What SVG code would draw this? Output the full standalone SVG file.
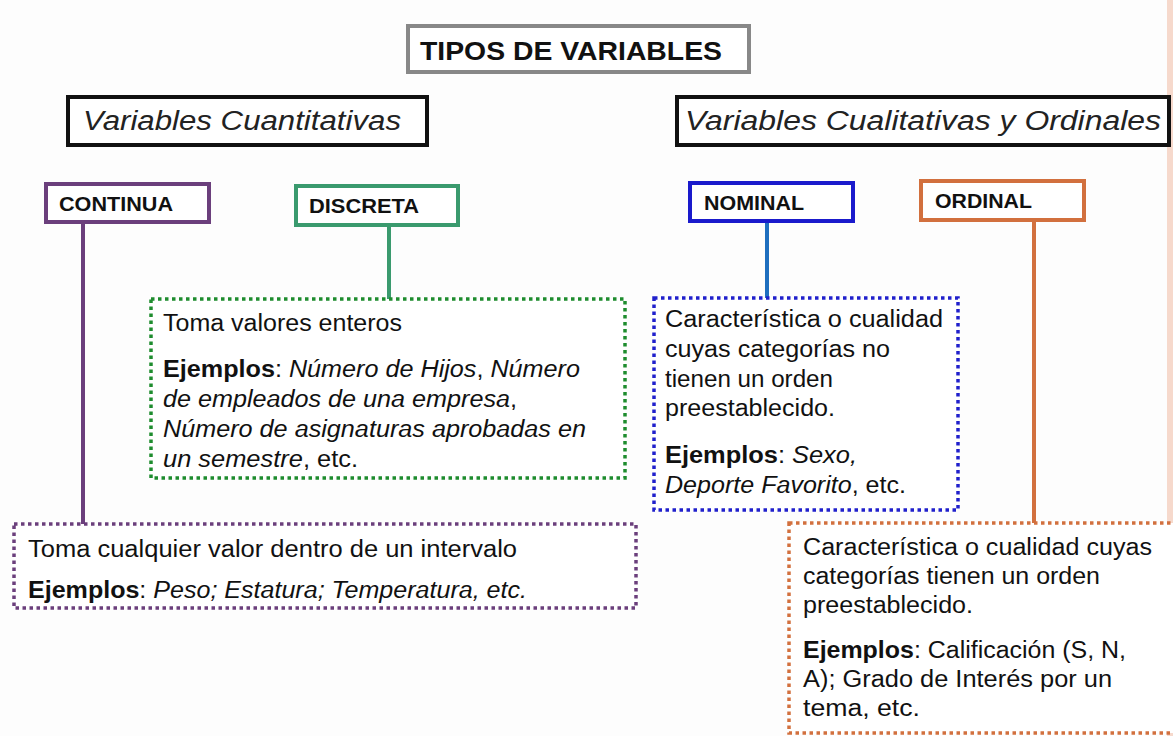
<svg xmlns="http://www.w3.org/2000/svg" width="1173" height="736" viewBox="0 0 1173 736">
<style>
.bg{fill:#fdfdfd}
.box{fill:#ffffff;stroke-width:4}
.dot{fill:#ffffff;stroke-width:3.5;stroke-dasharray:3.5 3.5}
.t{font-family:"Liberation Sans",Arial,sans-serif;fill:#111;font-size:23.5px}
.hdr{font-family:"Liberation Sans",Arial,sans-serif;font-weight:bold;fill:#111;font-size:20px}
.cat{font-family:"Century Gothic","URW Gothic","Liberation Sans",sans-serif;font-style:italic;fill:#222;font-size:27px}
.b{font-weight:bold}
.i{font-style:italic}
.conn line{stroke-width:4}
</style>
<rect class="bg" x="0" y="0" width="1173" height="736"/>
<rect x="1167" y="0" width="6" height="736" fill="#f6d9cc"/>

<g id="title">
<rect class="box" x="408" y="26" width="341" height="46" stroke="#888888"/>
<text x="420" y="60" font-family="Liberation Sans,Arial,sans-serif" font-weight="bold" font-size="26" fill="#111" textLength="302" lengthAdjust="spacingAndGlyphs">TIPOS DE VARIABLES</text>
</g>

<g id="cuantitativas">
<rect class="box" x="68" y="97" width="359" height="48" stroke="#111"/>
<text class="cat" x="83" y="130" textLength="318" lengthAdjust="spacingAndGlyphs">Variables Cuantitativas</text>
</g>

<g id="cualitativas">
<rect class="box" x="677" y="97" width="492" height="48" stroke="#111"/>
<text class="cat" x="685" y="130" textLength="476" lengthAdjust="spacingAndGlyphs">Variables Cualitativas y Ordinales</text>
</g>

<g class="conn" id="connectors">
<line x1="83" y1="222" x2="83" y2="524" stroke="#6b3f7c"/>
<line x1="389" y1="225" x2="389" y2="299" stroke="#3a9a6e"/>
<line x1="767" y1="222" x2="767" y2="298" stroke="#1f6fbf"/>
<line x1="1034" y1="220" x2="1034" y2="523" stroke="#d2703e"/>
</g>

<g id="continua">
<rect class="box" x="46" y="184" width="163" height="38" stroke="#6b3f7c"/>
<text class="hdr" x="59" y="211" textLength="114" lengthAdjust="spacingAndGlyphs">CONTINUA</text>
</g>

<g id="discreta">
<rect class="box" x="296" y="186" width="162" height="39" stroke="#3a9a6e"/>
<text class="hdr" x="309" y="213" textLength="110" lengthAdjust="spacingAndGlyphs">DISCRETA</text>
</g>

<g id="nominal">
<rect class="box" x="690" y="183" width="163" height="38" stroke="#1a1acc"/>
<text class="hdr" x="704" y="210" textLength="100" lengthAdjust="spacingAndGlyphs">NOMINAL</text>
</g>

<g id="ordinal">
<rect class="box" x="921" y="181" width="163" height="39" stroke="#d2703e"/>
<text class="hdr" x="935" y="208" textLength="97" lengthAdjust="spacingAndGlyphs">ORDINAL</text>
</g>

<g id="discreta-desc">
<rect class="dot" x="151" y="299" width="474" height="179" stroke="#1e8c2e"/>
<text class="t" x="163" y="331" textLength="239" lengthAdjust="spacingAndGlyphs">Toma valores enteros</text>
<text class="t" x="163" y="377" textLength="417" lengthAdjust="spacingAndGlyphs"><tspan class="b">Ejemplos</tspan>: <tspan class="i">Número de Hijos</tspan>, <tspan class="i">Número</tspan></text>
<text class="t" x="163" y="407" textLength="354" lengthAdjust="spacingAndGlyphs"><tspan class="i">de empleados de una empresa</tspan>,</text>
<text class="t" x="163" y="437" textLength="423" lengthAdjust="spacingAndGlyphs"><tspan class="i">Número de asignaturas aprobadas en</tspan></text>
<text class="t" x="163" y="467" textLength="195" lengthAdjust="spacingAndGlyphs"><tspan class="i">un semestre</tspan>, etc.</text>
</g>

<g id="nominal-desc">
<rect class="dot" x="654" y="298" width="304" height="212" stroke="#2020cc"/>
<text class="t" x="665" y="327" textLength="278" lengthAdjust="spacingAndGlyphs">Característica o cualidad</text>
<text class="t" x="665" y="357" textLength="225" lengthAdjust="spacingAndGlyphs">cuyas categorías no</text>
<text class="t" x="665" y="387" textLength="168" lengthAdjust="spacingAndGlyphs">tienen un orden</text>
<text class="t" x="665" y="416" textLength="170" lengthAdjust="spacingAndGlyphs">preestablecido.</text>
<text class="t" x="665" y="463" textLength="192" lengthAdjust="spacingAndGlyphs"><tspan class="b">Ejemplos</tspan>: <tspan class="i">Sexo,</tspan></text>
<text class="t" x="665" y="493" textLength="241" lengthAdjust="spacingAndGlyphs"><tspan class="i">Deporte Favorito</tspan>, etc.</text>
</g>

<g id="continua-desc">
<rect class="dot" x="14" y="524" width="622" height="84" stroke="#6b3f7c"/>
<text class="t" x="28" y="557" textLength="489" lengthAdjust="spacingAndGlyphs">Toma cualquier valor dentro de un intervalo</text>
<text class="t" x="28" y="598" textLength="499" lengthAdjust="spacingAndGlyphs"><tspan class="b">Ejemplos</tspan>: <tspan class="i">Peso; Estatura; Temperatura, etc.</tspan></text>
</g>

<g id="ordinal-desc">
<rect class="dot" x="789" y="523" width="390" height="210" stroke="#d2703e"/>
<text class="t" x="803" y="555" textLength="349" lengthAdjust="spacingAndGlyphs">Característica o cualidad cuyas</text>
<text class="t" x="803" y="584" textLength="297" lengthAdjust="spacingAndGlyphs">categorías tienen un orden</text>
<text class="t" x="803" y="613" textLength="170" lengthAdjust="spacingAndGlyphs">preestablecido.</text>
<text class="t" x="803" y="658" textLength="323" lengthAdjust="spacingAndGlyphs"><tspan class="b">Ejemplos</tspan>: Calificación (S, N,</text>
<text class="t" x="803" y="687" textLength="309" lengthAdjust="spacingAndGlyphs">A); Grado de Interés por un</text>
<text class="t" x="803" y="716" textLength="117" lengthAdjust="spacingAndGlyphs">tema, etc.</text>
</g>
</svg>
